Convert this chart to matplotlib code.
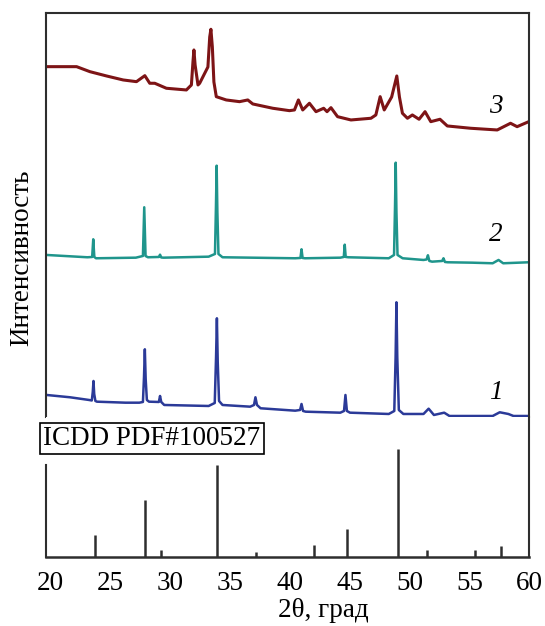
import matplotlib
matplotlib.use("Agg")
import matplotlib.pyplot as plt

plt.rcParams["font.family"] = ["Liberation Serif", "DejaVu Serif"]

# 2theta (deg) and intensity (arb. units) for the three samples
x1 = [19.68, 21.63, 23.22, 23.45, 23.53, 23.59, 23.65, 23.75, 23.88, 26.26,
      27.42, 27.72, 27.81, 27.88, 27.95, 28.05, 28.23, 29.05, 29.15, 29.25,
      29.50, 33.21, 33.72, 33.83, 33.90, 33.97, 34.08, 34.37, 36.68, 37.00,
      37.12, 37.25, 37.55, 40.44, 40.85, 40.97, 41.10, 41.32, 44.21, 44.52,
      44.64, 44.76, 45.02, 48.26, 48.72, 48.83, 48.90, 48.97, 49.10, 49.48,
      51.16, 51.59, 52.03, 52.89, 53.33, 56.94, 57.53, 58.25, 58.68, 59.95]
y1 = [162, 159.7, 157, 156.5, 165, 176, 163, 156, 155.3, 154.3,
      154.3, 155, 180, 207.7, 178, 157, 155.3, 155, 161, 155,
      152, 151, 154, 200, 238.7, 195, 156, 152, 150.3, 152,
      159.7, 152, 148.7, 146.3, 147, 153, 146, 145.3, 144.3, 146,
      162, 146, 144.3, 143, 146, 200, 254.7, 200, 147, 143,
      143, 148.3, 142, 144.3, 141, 141, 144.7, 143, 141, 141]

x2 = [19.68, 23.08, 23.48, 23.57, 23.66, 23.80, 27.13, 27.72, 27.83, 27.94,
      28.14, 29.05, 29.15, 29.25, 29.44, 33.21, 33.74, 33.82, 33.88, 33.94,
      34.03, 34.37, 40.44, 40.88, 40.97, 41.06, 41.26, 44.21, 44.50, 44.58,
      44.66, 44.88, 48.26, 48.70, 48.78, 48.84, 48.90, 48.99, 49.42, 51.16,
      51.42, 51.53, 51.65, 51.88, 52.72, 52.83, 52.95, 53.18, 55.21, 56.94,
      57.43, 57.82, 59.95]
y2 = [302, 299.7, 300, 317.7, 300, 298.7, 299.3, 301, 349.7, 301,
      299.7, 300, 302.3, 299.5, 299.3, 300.3, 303, 350, 391.3, 345,
      303, 299.7, 298.7, 299, 307.7, 299, 298.7, 299.3, 300, 312.3,
      300, 299.7, 298.7, 302, 350, 394.3, 345, 302, 298.7, 297,
      297.5, 301.7, 296, 295.3, 296, 298.7, 295, 294.7, 294.3, 293.7,
      297, 293.7, 294.7]

x3 = [19.68, 22.18, 23.29, 24.68, 26.07, 27.18, 27.88, 28.29, 28.71, 29.68,
      31.35, 31.77, 31.90, 31.98, 32.08, 32.32, 32.46, 33.15, 33.30, 33.40,
      33.52, 33.65, 33.85, 34.68, 35.79, 36.48, 36.90, 38.57, 39.96, 40.38,
      40.71, 41.07, 41.63, 42.18, 42.82, 43.10, 43.43, 43.98, 45.10, 46.77,
      47.18, 47.54, 47.88, 48.50, 48.93, 49.15, 49.40, 49.82, 50.23, 50.79,
      51.29, 51.77, 52.54, 53.15, 55.10, 57.32, 58.43, 58.98, 59.95]
y3 = [490.3, 490.3, 485.3, 481, 477, 475.3, 481.3, 473.7, 473.7, 468.7,
      467, 472, 495, 507, 492, 472, 473.7, 490, 520, 527.7,
      510, 475, 460.3, 457, 455.3, 457, 453, 448.7, 446.3, 447,
      457, 447, 453.7, 445.3, 448.7, 445.3, 449.3, 440.3, 437, 438.7,
      442, 460.3, 447, 460, 481, 460, 443.7, 438.7, 442, 437.7,
      445.3, 435.3, 437.7, 431, 428.7, 427, 433.7, 430.3, 435.3]

# reference card ICDD PDF#100527
ref_pos = [23.71, 27.90, 29.20, 33.95, 37.17, 42.03, 44.76, 49.04, 51.48, 55.43, 57.63]
ref_int = [22.3, 56.7, 6.7, 92.3, 5.0, 11.7, 28.3, 108.0, 6.7, 6.7, 10.7]

ticks = [20, 25, 30, 35, 40, 45, 50, 55, 60]
curve_labels = ["1", "2", "3"]
curve_label_y = [164, 322, 450]

frame = "#2e2e2e"
fs = 19.5

fig = plt.figure(figsize=(5.45, 6.26), dpi=100)
ax_top = fig.add_axes([0.0839, 0.3339, 0.8873, 0.6454])
ax_bot = fig.add_axes([0.0839, 0.1102, 0.8873, 0.2237])

for ax in (ax_top, ax_bot):
    ax.set_xlim(19.6, 60.0)
    for s in ax.spines.values():
        s.set_color(frame)
        s.set_linewidth(1.5)

# diffraction patterns
ax_top.plot(x1, y1, color="#2b3a98", lw=1.8, solid_joinstyle="round")
ax_top.plot(x2, y2, color="#1f958c", lw=1.8, solid_joinstyle="round")
ax_top.plot(x3, y3, color="#7d1416", lw=2.2, solid_joinstyle="round")
for lab, ly in zip(curve_labels, curve_label_y):
    ax_top.text(57.2, ly, lab, fontsize=fs, style="italic", ha="center", va="center")
ax_top.set_ylim(140, 544)
ax_top.spines["bottom"].set_visible(False)
ax_top.set_xticks([])
ax_top.set_yticks([])

# line pattern
ax_bot.vlines(ref_pos, 0, ref_int, color=frame, lw=1.8)
ax_bot.set_ylim(0, 140)
ax_bot.spines["top"].set_visible(False)
ax_bot.spines["left"].set_bounds(0, 92.3)
ax_bot.spines["bottom"].set_linewidth(1.8)
ax_bot.set_yticks([])
ax_bot.set_xticks(ticks)
ax_bot.set_xticklabels([str(t) for t in ticks])
ax_bot.tick_params(axis="x", length=0, pad=10, labelsize=fs)
ax_bot.set_xlabel("2θ, град", fontsize=fs)
ax_bot.xaxis.set_label_coords(0.575, -0.29)

fig.text(152 / 545, 1 - 438.6 / 626, "ICDD PDF#100527", fontsize=fs,
         ha="center", va="center",
         bbox=dict(boxstyle="square,pad=0.12", fc="white", ec="black", lw=1.2))
fig.text(22 / 545, 1 - 258 / 626, "Интенсивность", fontsize=fs,
         rotation=90, ha="center", va="center")

fig.savefig("out.png", dpi=100)
